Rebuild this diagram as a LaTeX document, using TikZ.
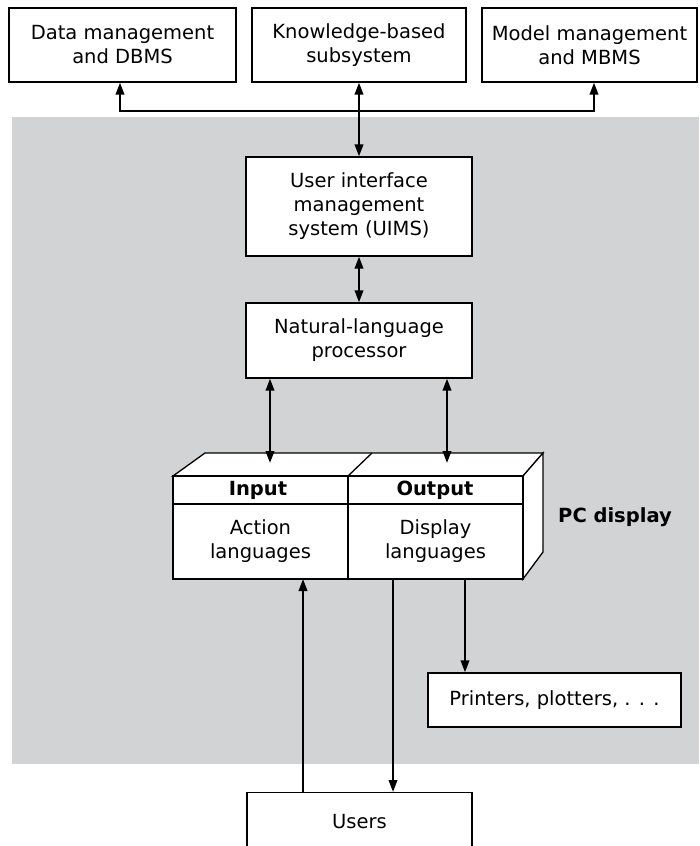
\documentclass[tikz,border=0pt]{standalone}
\usepackage{fontspec}
\setmainfont{DejaVu Sans}
\usetikzlibrary{arrows.meta,calc}
\definecolor{bggrey}{HTML}{D1D3D4}
\begin{document}
\begin{tikzpicture}[x=1pt,y=-1pt,
  box/.style={draw=black, line width=1.3pt, fill=white, inner sep=0pt, align=center,
    font=\fontsize{19.5}{24}\selectfont},
  lbl/.style={inner sep=0pt, align=center, font=\fontsize{19.5}{24}\selectfont},
  blbl/.style={inner sep=0pt, align=center, font=\fontsize{19.5}{24}\selectfont\bfseries},
  tip/.style={Triangle[length=12pt,width=8.5pt]},
  arr/.style={line width=2.1pt, -{Triangle[length=12pt,width=8.5pt]}},
  darr/.style={line width=2.1pt, {Triangle[length=12pt,width=8.5pt]}-{Triangle[length=12pt,width=8.5pt]}},
  face/.style={draw=black, line width=1.3pt, fill=white, line join=miter}]
\useasboundingbox (0,0) rectangle (699,846);
\fill[bggrey] (12,117) rectangle (699,764);

% top boxes
\node[box, minimum width=227pt, minimum height=74pt] (dbms) at (122.5,45) {Data management\\and DBMS};
\node[box, minimum width=214pt, minimum height=74pt] (kbs) at (359,45) {Knowledge-based\\subsystem};
\node[box, minimum width=215pt, minimum height=74pt] (mbms) at (589.5,45) {Model management\\and MBMS};

% middle boxes
\node[box, minimum width=226pt, minimum height=99pt] (uims) at (359,206.5) {User interface\\management\\system (UIMS)};
\node[box, minimum width=226pt, minimum height=75pt] (nlp) at (359,340.5) {Natural-language\\processor};

% cube
\draw[face] (173,476) -- (205,453) -- (543,453) -- (523,476) -- cycle;
\draw[face] (523,476) -- (543,453) -- (543,552) -- (523,579) -- cycle;
\draw[face] (173,476) rectangle (523,579);
\draw[line width=1.3pt] (348,476) -- (372,453);
\draw[line width=1.3pt] (173,504) -- (523,504);
\draw[line width=1.3pt] (348,476) -- (348,579);
\node[blbl] (input) at (258,490) {Input};
\node[blbl] (output) at (435,490) {Output};
\node[lbl] (action) at (260.5,541) {Action\\languages};
\node[lbl] (displ) at (435.5,541) {Display\\languages};
\node[blbl, anchor=west] (pcd) at (558,517) {PC display};

% bottom boxes
\node[box, minimum width=253pt, minimum height=54pt] (prn) at (554.5,700) {Printers, plotters, . . .};
\node[box, minimum width=225pt, minimum height=64pt, anchor=north] (users) at (359.5,792) {};
\node[lbl] (userstxt) at (359.5,822) {Users};

% coordinates
\coordinate (a1) at (120,111);
\coordinate (a3) at (594,111);
\coordinate (ct1) at (270,463);
\coordinate (ct2) at (447,463);
\coordinate (cb1) at (303,579);
\coordinate (cb2) at (393,579);
\coordinate (cb3) at (465,579);

% connectors
\draw[line width=2.1pt, line join=miter, {Triangle[length=12pt,width=8.5pt]}-{Triangle[length=12pt,width=8.5pt]}]
  (dbms.south -| a1) -- (a1) -- (a3) -- (mbms.south -| a3);
\draw[darr] (kbs.south) -- (uims.north);
\draw[darr] (uims.south) -- (nlp.north);
\draw[darr] (nlp.south -| ct1) -- (ct1);
\draw[darr] (nlp.south -| ct2) -- (ct2);
\draw[arr] (users.north -| cb1) -- (cb1);
\draw[arr] (cb2) -- (users.north -| cb2);
\draw[arr] (cb3) -- (prn.north -| cb3);
\end{tikzpicture}
\end{document}
